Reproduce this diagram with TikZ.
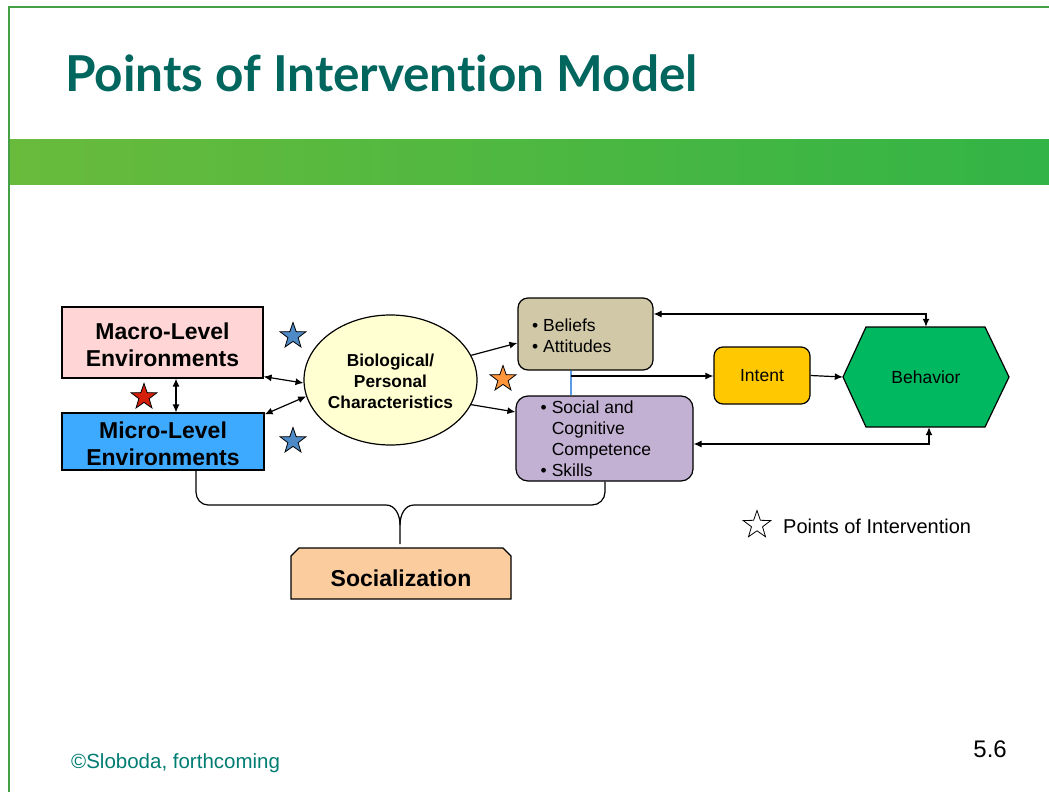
\documentclass[tikz,border=0pt]{standalone}
\usepackage{fontspec}
\setmainfont{Liberation Sans}
\newfontfamily\titlefont[Ligatures=NoCommon]{Lato}
\usetikzlibrary{shapes.geometric,arrows.meta,calc}
\definecolor{titleteal}{RGB}{0,102,94}
\definecolor{footteal}{RGB}{0,125,115}
\definecolor{framegreen}{RGB}{70,160,70}
\definecolor{bandL}{RGB}{105,187,60}
\definecolor{bandR}{RGB}{50,180,70}
\definecolor{macrofill}{RGB}{255,213,213}
\definecolor{microfill}{RGB}{61,170,255}
\definecolor{biofill}{RGB}{255,255,210}
\definecolor{belfill}{RGB}{209,200,167}
\definecolor{socfill}{RGB}{195,177,212}
\definecolor{intfill}{RGB}{255,200,0}
\definecolor{behfill}{RGB}{0,184,96}
\definecolor{sozfill}{RGB}{251,204,158}
\definecolor{starblue}{RGB}{78,138,198}
\definecolor{starred}{RGB}{212,32,10}
\definecolor{starorange}{RGB}{255,150,60}
\definecolor{linkblue}{RGB}{90,155,230}
\begin{document}
\begin{tikzpicture}[x=1pt,y=-1pt,
  box/.style={draw=black,line width=1.2pt,inner sep=0pt},
  rbox/.style={box,rounded corners=10pt},
  conn/.style={line width=1.2pt},
  tip/.style={-{Latex[length=8pt,width=7pt]}},
  tips/.style={{Latex[length=8pt,width=7pt]}-{Latex[length=8pt,width=7pt]}},
  poi/.style={star,star points=5,star point ratio=2.5,draw=black,line width=0.8pt,minimum size=27pt,inner sep=0pt},
  big/.style={font=\fontsize{23}{27}\selectfont\bfseries,align=center},
  mid/.style={font=\fontsize{17.5}{21}\selectfont},
  ]
\useasboundingbox (0,0) rectangle (1049,792);
\fill[white] (0,0) rectangle (1049,792);
% frame
\draw[framegreen,line width=2pt] (9,792) -- (9,7) -- (1049,7);
% title
\node[anchor=base west,inner sep=0pt,text=titleteal,font=\titlefont\bfseries\fontsize{49.5}{52}\selectfont] (title) at (65,92) {Points of Intervention Model};
% band
\shade[left color=bandL,right color=bandR] (10,139) rectangle (1049,184);

% nodes
\node[box,fill=macrofill,minimum width=201pt,minimum height=71pt] (mac) at (162.5,342.5) {};
\node[big,inner sep=0pt] (mactxt) at (162.5,345) {Macro-Level\\Environments};
\node[box,fill=microfill,minimum width=202pt,minimum height=57pt] (mic) at (163,441.5) {};
\node[big,inner sep=0pt] (mictxt) at (163,443.5) {Micro-Level\\Environments};
\node[ellipse,draw=black,line width=1.2pt,fill=biofill,minimum width=173pt,minimum height=130pt,inner sep=0pt] (bio) at (390.5,380) {};
\node[align=center,font=\fontsize{17.3}{21}\selectfont\bfseries,inner sep=0pt] (biotxt) at (390.5,381.5) {Biological/\\Personal\\Characteristics};
\node[rbox,fill=belfill,minimum width=135pt,minimum height=72pt] (bel) at (585.5,334) {};
\node[anchor=west,inner sep=0pt,align=left,mid] (beltxt) at (532,335.5) {• Beliefs\\• Attitudes};
\node[rbox,rounded corners=12pt,fill=socfill,minimum width=177pt,minimum height=85pt] (soc) at (604.5,438.5) {};
\node[anchor=west,inner sep=0pt,mid] (soctxt) at (540.5,440.5) {\begin{tabular}{@{}l@{\hspace{5pt}}l@{}}•&Social and\\&Cognitive\\&Competence\\•&Skills\end{tabular}};
\node[rbox,rounded corners=9pt,fill=intfill,minimum width=96pt,minimum height=57pt,mid] (int) at (762,375.5) {Intent};
\fill[behfill] (843,377) -- (866,327) -- (985,327) -- (1009,377) -- (985,427) -- (866,427) -- cycle;
\draw[line width=1.2pt] (843,377) -- (866,327) -- (985,327) -- (1009,377) -- (985,427) -- (866,427) -- cycle;
\node[minimum width=166pt,minimum height=100pt,inner sep=0pt,mid] (beh) at (926,377) {Behavior};
\fill[sozfill] (291,599) -- (291,556) -- (299,548) -- (503,548) -- (511,556) -- (511,599) -- cycle;
\draw[line width=1.2pt] (291,599) -- (291,556) -- (299,548) -- (503,548) -- (511,556) -- (511,599) -- cycle;
\node[inner sep=0pt,font=\fontsize{23}{26}\selectfont\bfseries] (soz) at (401,578) {Socialization};

% stars
\node[poi,fill=starblue] (s1) at (293,336) {};
\node[poi,fill=starred] (s2) at (144,397) {};
\node[poi,fill=starblue] (s3) at (293,441) {};
\node[poi,fill=starorange] (s4) at (503,379) {};
\node[poi,fill=white,minimum size=29pt,line width=0.8pt] (s5) at (757,525) {};
\node[anchor=base west,inner sep=0pt,font=\fontsize{20}{22}\selectfont] (legend) at (783,533) {Points of Intervention};

% helper coordinates
\coordinate (x176) at (176,0);
\coordinate (x571) at (571,0);
\coordinate (x196) at (196,0);
\coordinate (x605) at (605,0);
\coordinate (y314) at (0,314);
\coordinate (y444) at (0,444);
\coordinate (y376) at (0,376);
\coordinate (brtip) at (400,544);

% connectors
\draw[conn,tips] (mac.south -| x176) -- (mic.north -| x176);
\draw[conn,tips] ([yshift=2pt]mac.south east) -- (bio.182);
\draw[conn,tips] ([yshift=-2pt]mic.north east) -- (bio.191);
\draw[conn,tip] (bio.17.7) -- ([yshift=-9pt]bel.west);
\draw[conn,tip] (bio.-17.5) -- ([yshift=26.5pt]soc.west);
\draw[linkblue,line width=1.2pt] (bel.south -| x571) -- (soc.north -| x571);
\draw[conn,tip] (x571 |- y376) -- (int.west |- y376);
\draw[conn,tip] (int.east) -- (beh.west);
\draw[conn,tips] (bel.east |- y314) -| (beh.north);
\draw[conn,tips] (soc.east |- y444) -| ([xshift=3pt]beh.south);
% brace
\draw[line width=1.2pt] (mic.south -| x196) -- (196,492) to[out=-90,in=180] (208,505) -- (386,505) to[out=0,in=90] (400,525) -- (brtip);
\draw[line width=1.2pt] (400,525) to[out=90,in=180] (414,505) -- (592,505) to[out=0,in=-90] (605,492) -- (soc.south -| x605);

% footer
\node[anchor=base west,inner sep=0pt,text=footteal,font=\fontsize{20.5}{22}\selectfont] (foot) at (71,768) {©Sloboda, forthcoming};
\node[anchor=base east,inner sep=0pt,font=\fontsize{24}{26}\selectfont] (pg) at (1007,757) {5.6};
\end{tikzpicture}
\end{document}
